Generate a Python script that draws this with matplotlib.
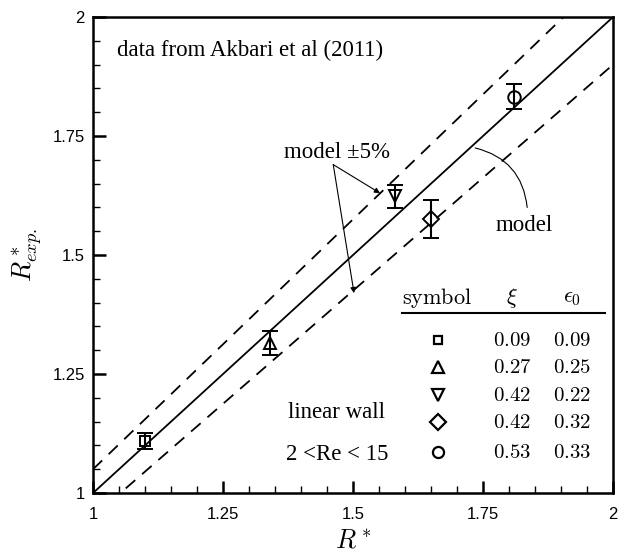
import matplotlib
matplotlib.use("Agg")
import matplotlib.pyplot as plt
from matplotlib.ticker import MultipleLocator, FixedFormatter, FixedLocator

# data
r_model = [1.10, 1.34, 1.58, 1.65, 1.81]
r_exp = [1.110, 1.315, 1.623, 1.575, 1.833]
r_err = [0.017, 0.026, 0.025, 0.040, 0.027]
markers = ["s", "^", "v", "D", "o"]
xi = ["0.09", "0.27", "0.42", "0.42", "0.53"]
eps0 = ["0.09", "0.25", "0.22", "0.32", "0.33"]
ticks = [1, 1.25, 1.5, 1.75, 2]
tick_labels = ["1", "1.25", "1.5", "1.75", "2"]
band = 0.05

serif = ["Liberation Serif", "DejaVu Serif"]

fig = plt.figure(figsize=(6.18, 5.59), dpi=100)
ax = fig.add_axes([0.1505, 0.118, 0.8414, 0.8515])

line_x = [1, 2]
ax.plot(line_x, line_x, color="black", lw=1.3)
ax.plot(line_x, [v * (1 + band) for v in line_x], color="black", lw=1.3, dashes=(7, 5))
ax.plot(line_x, [v * (1 - band) for v in line_x], color="black", lw=1.3, dashes=(7, 5))

msize = {"s": 7, "^": 9, "v": 9, "D": 8, "o": 9}
for x, y, e, m in zip(r_model, r_exp, r_err, markers):
    ax.errorbar(x, y, yerr=e, fmt=m, ms=msize[m], mfc="none", mec="black", mew=1.4,
                ecolor="black", elinewidth=1.5, capsize=6, capthick=1.5)

# legend table
ty = [1.321, 1.265, 1.206, 1.149, 1.086]
ax.text(1.662, 1.41, r"$\mathrm{symbol}$", math_fontfamily="cm", fontsize=16, ha="center", va="center")
ax.text(1.806, 1.41, r"$\xi$", math_fontfamily="cm", fontsize=16, ha="center", va="center")
ax.text(1.921, 1.41, r"$\epsilon_0$", math_fontfamily="cm", fontsize=16, ha="center", va="center")
ax.plot([1.594, 1.985], [1.378, 1.378], color="black", lw=1.5)
lsize = {"s": 6, "^": 8, "v": 8, "D": 8, "o": 8}
for y, m, a, b in zip(ty, markers, xi, eps0):
    ax.plot(1.663, y, m, ms=lsize[m], mfc="none", mec="black", mew=1.6)
    ax.text(1.806, y, "$" + a + "$", math_fontfamily="cm", fontsize=15, ha="center", va="center")
    ax.text(1.921, y, "$" + b + "$", math_fontfamily="cm", fontsize=15, ha="center", va="center")

# annotations
ax.text(1.047, 1.93, "data from Akbari et al (2011)", family=serif, fontsize=16.5, va="center")
ax.text(1.469, 1.17, "linear wall", family=serif, fontsize=16.5, ha="center", va="center")
ax.text(1.469, 1.08, "2 <Re < 15", family=serif, fontsize=16.5, ha="center", va="center")
ax.text(1.469, 1.716, "model ±5%", family=serif, fontsize=16.5, ha="center", va="center")
for tip in [(1.552, 1.630), (1.502, 1.420)]:
    ax.annotate("", xy=tip, xytext=(1.462, 1.690),
                arrowprops=dict(arrowstyle="-|>", color="black", lw=0.8, mutation_scale=8,
                                shrinkA=0, shrinkB=0))
ax.text(1.829, 1.563, "model", family=serif, fontsize=16.5, ha="center", va="center")
ax.annotate("", xy=(1.835, 1.60), xytext=(1.735, 1.725),
            arrowprops=dict(arrowstyle="-", color="black", lw=0.8,
                            connectionstyle="arc3,rad=-0.35", shrinkA=0, shrinkB=0))

ax.set_xlim(1, 2)
ax.set_ylim(1, 2)
for axis in (ax.xaxis, ax.yaxis):
    axis.set_major_locator(FixedLocator(ticks))
    axis.set_major_formatter(FixedFormatter(tick_labels))
    axis.set_minor_locator(MultipleLocator(0.05))
ax.tick_params(which="major", direction="in", length=9, width=1.8, top=False, right=False,
               labelsize=12, pad=6)
ax.tick_params(axis="x", which="major", pad=10)
ax.tick_params(which="minor", direction="in", length=5, width=1, top=False, right=False)
for lab in ax.get_xticklabels() + ax.get_yticklabels():
    lab.set_family("Liberation Sans")
for s in ax.spines.values():
    s.set_linewidth(1.8)

ax.set_xlabel(r"$R^*$", fontsize=19, math_fontfamily="cm", labelpad=4)
ax.set_ylabel(r"$R^*_{exp.}$", fontsize=19, math_fontfamily="cm", labelpad=5)

fig.savefig("out.png", dpi=100)
